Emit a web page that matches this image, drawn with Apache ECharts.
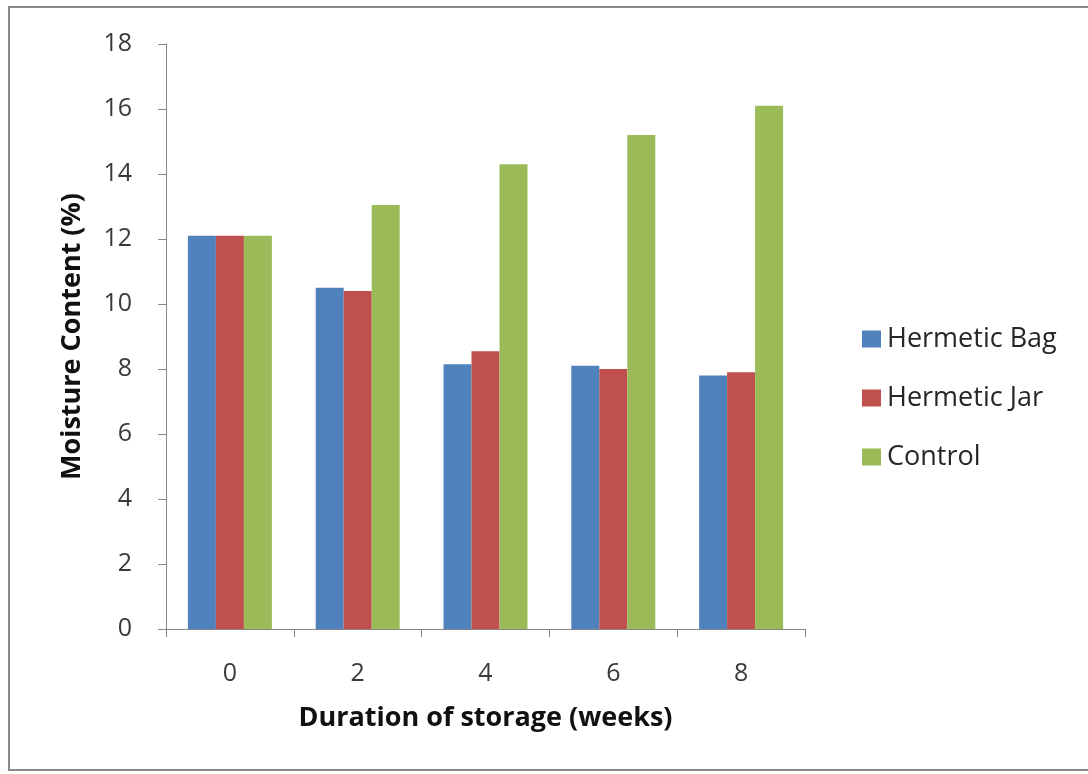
<!DOCTYPE html>
<html>
<head>
<meta charset="utf-8">
<script src="https://cdn.jsdelivr.net/npm/echarts@6/dist/echarts.min.js"></script>
<style>
  html, body { margin: 0; padding: 0; background: #fff; }
  #chart { width: 1088px; height: 774px; }
</style>
</head>
<body>
<div id="chart"></div>
<script>
// Storage duration in weeks
const weeks = ['0', '2', '4', '6', '8'];
// Moisture content (%) by storage method
const hermeticBag = [12.1, 10.5, 8.15, 8.1, 7.8];
const hermeticJar = [12.1, 10.4, 8.55, 8.0, 7.9];
const control = [12.1, 13.05, 14.3, 15.2, 16.1];

const FONT = '"Open Sans", Lato, sans-serif';
const chart = echarts.init(document.getElementById('chart'));

const barStyle = (color) => ({
  type: 'bar',
  barWidth: 28,
  barGap: '0%',
  itemStyle: { color: color },
  emphasis: { disabled: true }
});

chart.setOption({
  animation: false,
  backgroundColor: '#ffffff',
  graphic: [{
    type: 'rect',
    shape: { x: 9, y: 7, width: 1095, height: 763 },
    style: { fill: 'none', stroke: '#8a8a8a', lineWidth: 2 },
    silent: true
  }],
  grid: { left: 166, right: 283, top: 44, bottom: 145 },
  legend: {
    orient: 'vertical',
    left: 857,
    top: 320,
    itemWidth: 19,
    itemHeight: 17,
    itemGap: 31,
    icon: 'rect',
    textStyle: { fontFamily: FONT, fontSize: 27, color: '#262626', lineHeight: 28, padding: [0, 0, 0, 1] },
    data: ['Hermetic Bag', 'Hermetic Jar', 'Control']
  },
  xAxis: {
    type: 'category',
    data: weeks,
    name: 'Duration of storage (weeks)',
    nameLocation: 'middle',
    nameGap: 76,
    nameTextStyle: { fontFamily: FONT, fontSize: 27, fontWeight: 'bold', color: '#111' },
    axisLine: { lineStyle: { color: '#868686', width: 1 } },
    axisTick: { show: true, length: 8, lineStyle: { color: '#868686' } },
    axisLabel: { fontFamily: FONT, fontSize: 25, color: '#3a3a3a', margin: 32 },
    splitLine: { show: false }
  },
  yAxis: {
    type: 'value',
    min: 0,
    max: 18,
    interval: 2,
    name: 'Moisture Content (%)',
    nameLocation: 'middle',
    nameGap: 80,
    nameTextStyle: { fontFamily: FONT, fontSize: 27, fontWeight: 'bold', color: '#111' },
    axisLine: { show: true, lineStyle: { color: '#868686', width: 1 } },
    axisTick: { show: true, length: 8, lineStyle: { color: '#868686' } },
    axisLabel: { fontFamily: FONT, fontSize: 25, color: '#3a3a3a', margin: 34 },
    splitLine: { show: false }
  },
  series: [
    Object.assign({ name: 'Hermetic Bag', data: hermeticBag }, barStyle('#4F81BD')),
    Object.assign({ name: 'Hermetic Jar', data: hermeticJar }, barStyle('#C0504D')),
    Object.assign({ name: 'Control', data: control }, barStyle('#9BBB59'))
  ]
});
</script>
</body>
</html>
